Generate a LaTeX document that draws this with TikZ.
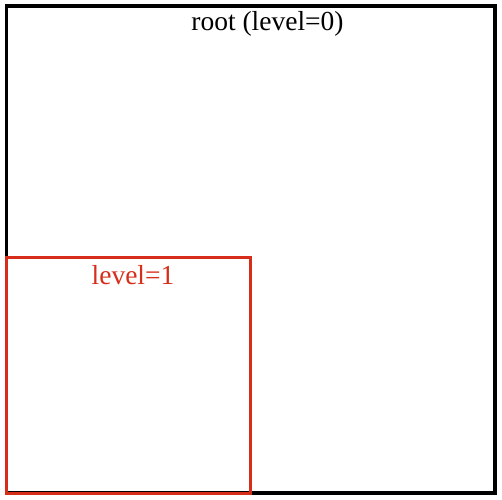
\documentclass[tikz,border=0pt]{standalone}
\usepackage{fontspec}
\setmainfont{Liberation Serif}
\definecolor{levelred}{RGB}{214,46,26}
\begin{document}
\begin{tikzpicture}[x=1pt,y=-1pt,
    label text/.style={anchor=base,inner sep=0pt,font=\fontsize{27.5}{31}\selectfont}]
    % Page
    \useasboundingbox (0,0) rectangle (502,499);

    % Root cell (level 0)
    \draw[line width=3.2pt,black] (6.5,6) rectangle (495,493);
    \node[label text] (rootlabel) at (267.5,30) {root (level=0)};

    % Child cell (level 1)
    \draw[line width=3pt,levelred] (6.5,257) rectangle (250,493);
    \node[label text,text=levelred] (childlabel) at (133,284) {level=1};

  \end{tikzpicture}
\end{document}
